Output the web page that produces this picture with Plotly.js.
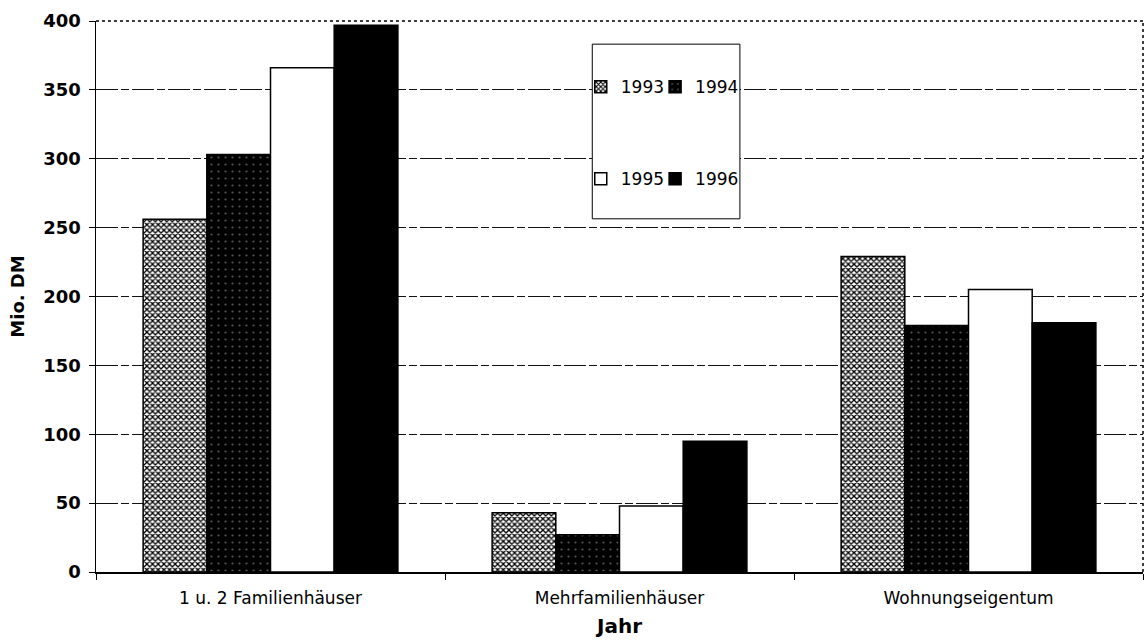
<!DOCTYPE html>
<html>
<head>
<meta charset="utf-8">
<script src="https://cdn.plot.ly/plotly-3.0.1.min.js"></script>
<style>
  body { margin: 0; background: #fff; }
  #chart { width: 1146px; height: 643px; }
</style>
</head>
<body>
<div id="chart"></div>
<script>
// Kategorien und Werte (Mio. DM)
const kategorien = ["1 u. 2 Familienhäuser", "Mehrfamilienhäuser", "Wohnungseigentum"];
const jahre = ["1993", "1994", "1995", "1996"];
const werte1993 = [256, 43, 229];
const werte1994 = [303, 27, 179];
const werte1995 = [366, 48, 205];
const werte1996 = [397, 95, 181];

const schrift = "DejaVu Sans, Verdana, sans-serif";

// Füllmuster je Jahr
const stile = [
  { color: "#fff", pattern: { shape: "x", fgcolor: "#000", bgcolor: "#fff", size: 4, solidity: 0.55 } },
  { color: "#000", pattern: { shape: ".", fgcolor: "#555", bgcolor: "#000", size: 7, solidity: 0.08 } },
  { color: "#fff" },
  { color: "#000" }
];
// jede Reihe bekommt eine eigene Legende (2x2 Anordnung)
const legenden = ["legend", "legend2", "legend3", "legend4"];

const reihen = [werte1993, werte1994, werte1995, werte1996];
const data = reihen.map((werte, i) => ({
  type: "bar",
  name: jahre[i],
  x: kategorien,
  y: werte,
  legend: legenden[i],
  showlegend: true,
  marker: Object.assign({ line: { color: "#000", width: 1.5 } }, stile[i])
}));

const legendeStil = {
  orientation: "h",
  xanchor: "left",
  yanchor: "middle",
  font: { family: schrift, size: 17, color: "#000" },
  bgcolor: "rgba(0,0,0,0)"
};

const layout = {
  width: 1146,
  height: 643,
  margin: { l: 96, r: 3, t: 21, b: 71 },
  paper_bgcolor: "#fff",
  plot_bgcolor: "#fff",
  showlegend: true,
  bargap: 0.27,
  bargroupgap: 0,
  barmode: "group",
  font: { family: schrift, color: "#000" },
  xaxis: {
    type: "category",
    showline: true,
    linecolor: "#000",
    linewidth: 1.5,
    ticks: "outside",
    tickson: "boundaries",
    ticklen: 6,
    tickcolor: "#000",
    ticklabelstandoff: 10,
    tickfont: { family: schrift, size: 17 },
    title: { text: "<b>Jahr</b>", font: { family: schrift, size: 20 }, standoff: 12 }
  },
  yaxis: {
    range: [0, 400],
    dtick: 50,
    showline: true,
    linecolor: "#000",
    linewidth: 1.5,
    ticks: "outside",
    ticklen: 6,
    tickcolor: "#000",
    ticklabelstandoff: 4,
    showgrid: true,
    gridcolor: "#111",
    gridwidth: 1,
    griddash: "22px,3px,8px,3px",
    zeroline: false,
    tickfont: { family: schrift, size: 18, weight: "bold" },
    title: { text: "<b>Mio. DM</b>", font: { family: schrift, size: 18 }, standoff: 14 }
  },
  legend: Object.assign({}, legendeStil, { x: 0.463, y: 0.88 }),
  legend2: Object.assign({}, legendeStil, { x: 0.534, y: 0.88 }),
  legend3: Object.assign({}, legendeStil, { x: 0.463, y: 0.713 }),
  legend4: Object.assign({}, legendeStil, { x: 0.534, y: 0.713 }),
  shapes: [
    // gepunkteter Rahmen oben und rechts
    { type: "line", xref: "paper", yref: "paper", x0: 0, x1: 1, y0: 1, y1: 1,
      line: { color: "#000", width: 1.5, dash: "dot" } },
    { type: "line", xref: "paper", yref: "paper", x0: 1, x1: 1, y0: 0, y1: 1,
      line: { color: "#000", width: 1.5, dash: "dot" } },
    // Legendenkasten
    { type: "rect", xref: "paper", yref: "paper", x0: 0.474, x1: 0.615, y0: 0.641, y1: 0.958,
      layer: "above", fillcolor: "#fff", line: { color: "#000", width: 1 } }
  ]
};

Plotly.newPlot("chart", data, layout, { displayModeBar: false, staticPlot: true });
</script>
</body>
</html>
